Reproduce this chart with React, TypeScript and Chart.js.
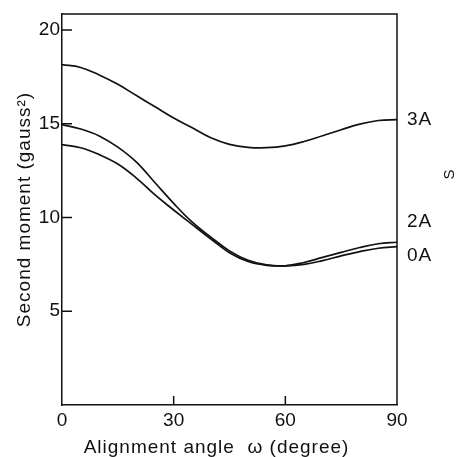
import React, { useEffect, useRef } from "react";
import { Chart, registerables } from "chart.js";

Chart.register(...registerables);

const angles = [0, 5, 10, 15, 20, 25, 30, 35, 40, 45, 50, 55, 60, 65, 70, 75, 80, 85, 90];
const series3A = [18.15, 18.0, 17.6, 17.1, 16.5, 15.9, 15.3, 14.78, 14.25, 13.9, 13.74, 13.72, 13.82, 14.05, 14.36, 14.68, 14.98, 15.17, 15.22];
const series2A = [14.95, 14.72, 14.35, 13.75, 12.95, 11.85, 10.75, 9.75, 8.95, 8.22, 7.72, 7.47, 7.42, 7.6, 7.87, 8.14, 8.4, 8.6, 8.68];
const series0A = [13.88, 13.72, 13.35, 12.85, 12.1, 11.2, 10.4, 9.62, 8.85, 8.12, 7.65, 7.45, 7.42, 7.5, 7.7, 7.95, 8.18, 8.36, 8.45];
const seriesNames = ["3A", "2A", "0A"];
const labelOffsets = [0, -20, 9];
const xTicks = [0, 30, 60, 90];
const yTicks = [5, 10, 15, 20];
const xTitle = "Alignment angle  \u03c9 (degree)";
const yTitle = "Second moment (gauss\u00b2)";

const FONT = "'Liberation Sans', Arial, sans-serif";
const INK = "#111";

const overlay = {
  id: "overlay",
  afterDraw(chart: any) {
    const { ctx, chartArea: a, scales } = chart;
    const xs = scales.x;
    const ys = scales.y;
    ctx.save();
    ctx.strokeStyle = INK;
    ctx.lineWidth = 1.5;
    ctx.beginPath();
    ctx.moveTo(a.left, a.top);
    ctx.lineTo(a.right, a.top);
    ctx.lineTo(a.right, a.bottom);
    ctx.stroke();
    // inward ticks
    ctx.beginPath();
    yTicks.forEach((v) => {
      const y = ys.getPixelForValue(v);
      ctx.moveTo(a.left, y);
      ctx.lineTo(a.left + 10, y);
    });
    xTicks.forEach((v) => {
      if (v === xs.min || v === xs.max) return;
      const x = xs.getPixelForValue(v);
      ctx.moveTo(x, a.bottom);
      ctx.lineTo(x, a.bottom - 9);
    });
    ctx.stroke();
    // series labels
    ctx.fillStyle = INK;
    ctx.font = `19px ${FONT}`;
    (ctx as any).letterSpacing = "1px";
    ctx.textBaseline = "middle";
    ctx.textAlign = "left";
    chart.data.datasets.forEach((ds: any, i: number) => {
      const last = ds.data[ds.data.length - 1];
      const y = ys.getPixelForValue(last.y) + labelOffsets[i];
      ctx.fillText(seriesNames[i], a.right + 10, y);
    });
    // titles
    ctx.textAlign = "center";
    ctx.font = `19px ${FONT}`;
    ctx.fillText(xTitle, (a.left + a.right) / 2 - 13, a.bottom + 43);
    ctx.save();
    ctx.translate(25, (a.top + a.bottom) / 2);
    ctx.rotate(-Math.PI / 2);
    ctx.fillText(yTitle, 0, 0);
    ctx.restore();
    // stray mark at the right edge
    ctx.save();
    ctx.translate(450, 174);
    ctx.rotate(-Math.PI / 2);
    ctx.font = `15px ${FONT}`;
    ctx.fillText("S", 0, 0);
    ctx.restore();
    ctx.restore();
  },
};

export default function App() {
  const ref = useRef<HTMLCanvasElement | null>(null);
  useEffect(() => {
    if (!ref.current) return;
    const mk = (data: number[], i: number) => ({
      label: seriesNames[i],
      data: data.map((v, j) => ({ x: angles[j], y: v })),
      borderColor: INK,
      borderWidth: 1.7,
      pointRadius: 0,
      fill: false,
      tension: 0.4,
    });
    const chart = new Chart(ref.current, {
      type: "line",
      data: {
        datasets: [mk(series3A, 0), mk(series2A, 1), mk(series0A, 2)],
      },
      options: {
        animation: false,
        responsive: true,
        maintainAspectRatio: false,
        layout: { padding: { top: 14, right: 59, left: 0, bottom: 0 } },
        plugins: { legend: { display: false }, tooltip: { enabled: false } },
        scales: {
          x: {
            type: "linear",
            min: 0,
            max: 90,
            afterFit: (s: any) => {
              s.height = 52;
            },
            ticks: {
              stepSize: 30,
              color: INK,
              padding: 4,
              font: { size: 19, family: FONT },
              maxRotation: 0,
            },
            grid: { display: false, drawTicks: false },
            border: { display: true, color: INK, width: 1.5 },
          },
          y: {
            type: "linear",
            min: 0,
            max: 20.85,
            afterFit: (s: any) => {
              s.width = 62;
            },
            ticks: {
              stepSize: 5,
              includeBounds: false,
              color: INK,
              padding: 2,
              font: { size: 19, family: FONT },
              callback: (v: any) => (v === 0 ? "" : String(v)),
            },
            grid: { display: false, drawTicks: false },
            border: { display: true, color: INK, width: 1.5 },
          },
        },
      },
      plugins: [overlay],
    });
    return () => chart.destroy();
  }, []);
  return (
    <div style={{ position: "fixed", left: 0, top: 0, width: 456, height: 457, background: "#fff" }}>
      <canvas ref={ref} />
    </div>
  );
}
